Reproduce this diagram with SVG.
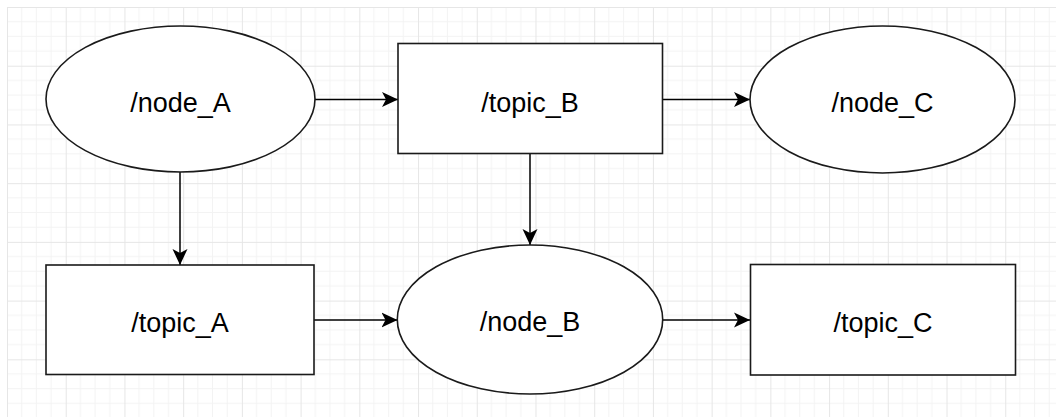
<svg xmlns="http://www.w3.org/2000/svg" width="1056" height="417" viewBox="0 0 1056 417">
  <style>
    .shape { fill: #ffffff; stroke: #1a1a1a; stroke-width: 1.6; }
    .label { font-family: "Liberation Sans", Arial, sans-serif; font-size: 27px; fill: #000000; text-anchor: middle; }
    .edge { fill: none; stroke: #000000; stroke-width: 1.5; }
  </style>
  <defs>
    <!-- background grid: minor cells with a heavier line every fourth -->
    <pattern id="grid" patternUnits="userSpaceOnUse" x="7" y="7" width="58.72" height="58.72">
      <path d="M14.68 0V58.72M29.36 0V58.72M44.04 0V58.72M0 14.68H58.72M0 29.36H58.72M0 44.04H58.72" fill="none" stroke="#f3f3f3" stroke-width="1"/>
      <path d="M0.5 0V58.72M0 0.5H58.72" fill="none" stroke="#e6e6e6" stroke-width="1"/>
    </pattern>
    <marker id="arrow" viewBox="0 0 16 16" refX="16" refY="8" markerUnits="userSpaceOnUse" markerWidth="16" markerHeight="16" orient="auto">
      <path d="M16 8L0 0.5L4 8L0 15.5Z" fill="#000000"/>
    </marker>
  </defs>

  <rect width="1056" height="417" fill="#ffffff"/>
  <rect x="7" y="7" width="1049" height="410" fill="url(#grid)"/>

  <g id="connectors">
    <path class="edge" d="M315 99.5H398" marker-end="url(#arrow)"/>
    <path class="edge" d="M662 99.5H750" marker-end="url(#arrow)"/>
    <path class="edge" d="M180 172V265" marker-end="url(#arrow)"/>
    <path class="edge" d="M530 154V245" marker-end="url(#arrow)"/>
    <path class="edge" d="M314 320H397.5" marker-end="url(#arrow)"/>
    <path class="edge" d="M663 320H750" marker-end="url(#arrow)"/>
  </g>

  <g id="node_A">
    <ellipse class="shape" cx="180.5" cy="99" rx="134.5" ry="73"/>
    <text class="label" x="180.5" y="111.5">/node_A</text>
  </g>

  <g id="topic_B">
    <rect class="shape" x="398" y="43.5" width="264.5" height="110"/>
    <text class="label" x="530" y="111.5">/topic_B</text>
  </g>

  <g id="node_C">
    <ellipse class="shape" cx="882.5" cy="99.5" rx="132.5" ry="73.5"/>
    <text class="label" x="882.5" y="111.5">/node_C</text>
  </g>

  <g id="topic_A">
    <rect class="shape" x="46" y="265" width="268" height="109.5"/>
    <text class="label" x="180" y="331.5">/topic_A</text>
  </g>

  <g id="node_B">
    <ellipse class="shape" cx="530" cy="319.5" rx="132.7" ry="74.5"/>
    <text class="label" x="530" y="331">/node_B</text>
  </g>

  <g id="topic_C">
    <rect class="shape" x="750.5" y="264.5" width="265" height="110.5"/>
    <text class="label" x="883" y="331.5">/topic_C</text>
  </g>
</svg>
